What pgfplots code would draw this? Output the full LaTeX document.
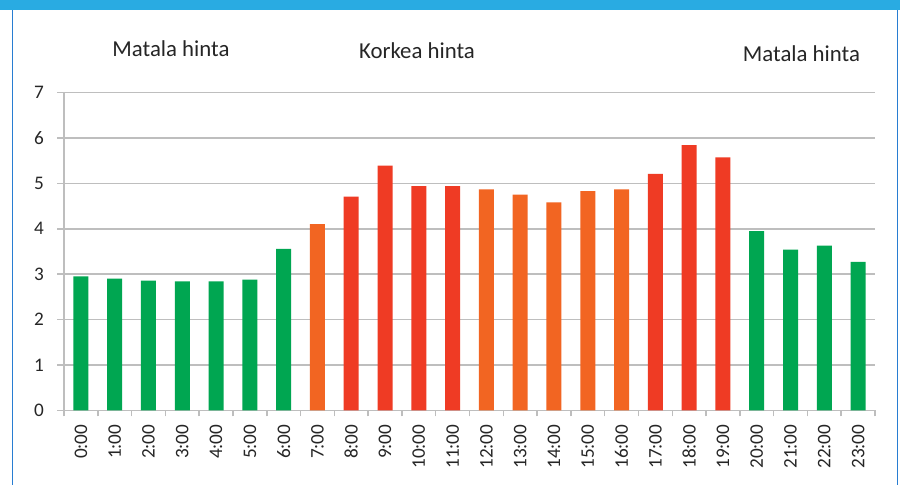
\documentclass[border=0pt]{standalone}
\usepackage{pgfplots}
\pgfplotsset{compat=1.18}
\usepackage{fontspec}
\setmainfont{Carlito}
\definecolor{cgreen}{RGB}{0,166,81}
\definecolor{corange}{RGB}{242,101,34}
\definecolor{cred}{RGB}{239,59,36}
\definecolor{cband}{RGB}{41,171,226}
\definecolor{cborder}{RGB}{40,125,210}
\definecolor{cgrid}{RGB}{190,190,190}
\begin{document}
\begin{tikzpicture}[x=0.5pt,y=0.5pt]
\useasboundingbox (0,0) rectangle (900,485);
\fill[white] (0,0) rectangle (900,485);
\fill[cband] (0,475) rectangle (900,485);
\draw[cborder, line width=0.8pt] (12.5,0) -- (12.5,475);
\draw[cborder, line width=0.8pt] (897.5,0) -- (897.5,475);
\begin{axis}[
  at={(32pt,37.25pt)}, anchor=south west,
  scale only axis,
  width=405.5pt, height=159pt,
  xmin=-0.5, xmax=23.5, ymin=0, ymax=7,
  axis x line*=bottom, axis y line*=left,
  axis line style={cgrid, line width=0.75pt, -},
  ybar, bar width=7.5pt, bar shift=0pt,
  xtick={0,...,23},
  xticklabels={0:00,1:00,2:00,3:00,4:00,5:00,6:00,7:00,8:00,9:00,10:00,11:00,12:00,13:00,14:00,15:00,16:00,17:00,18:00,19:00,20:00,21:00,22:00,23:00},
  x tick label style={rotate=90, anchor=east, font=\fontsize{9.6}{10}\selectfont, text=black!85},
  y tick label style={font=\fontsize{9.6}{10}\selectfont, text=black!85, xshift=-3pt},
  major x tick style={draw=none},
  minor xtick={-0.5,0.5,...,23.5},
  minor x tick style={cgrid, line width=0.75pt},
  minor tick length=3pt,
  ytick={0,...,7},
  major y tick style={cgrid, line width=0.75pt},
  major tick length=3.5pt,
  tick align=outside,
  ymajorgrids,
  grid style={cgrid, line width=0.75pt},
  /pgf/number format/assume math mode=true,
  clip=false,
]
\addplot[fill=cgreen, draw=none] coordinates {(0,2.95) (1,2.90) (2,2.86) (3,2.84) (4,2.84) (5,2.88) (6,3.56) (20,3.95) (21,3.54) (22,3.63) (23,3.27)};
\addplot[fill=corange, draw=none] coordinates {(7,4.10) (12,4.87) (13,4.75) (14,4.58) (15,4.83) (16,4.87)};
\addplot[fill=cred, draw=none] coordinates {(8,4.71) (9,5.39) (10,4.94) (11,4.94) (17,5.21) (18,5.84) (19,5.57)};
\end{axis}
\node[anchor=base, font=\fontsize{11.4}{13}\selectfont, text=black!85] at (171,428) {Matala hinta};
\node[anchor=base, font=\fontsize{11.4}{13}\selectfont, text=black!85] at (417,426.5) {Korkea hinta};
\node[anchor=base, font=\fontsize{11.4}{13}\selectfont, text=black!85] at (801.5,423.5) {Matala hinta};
\end{tikzpicture}
\end{document}
